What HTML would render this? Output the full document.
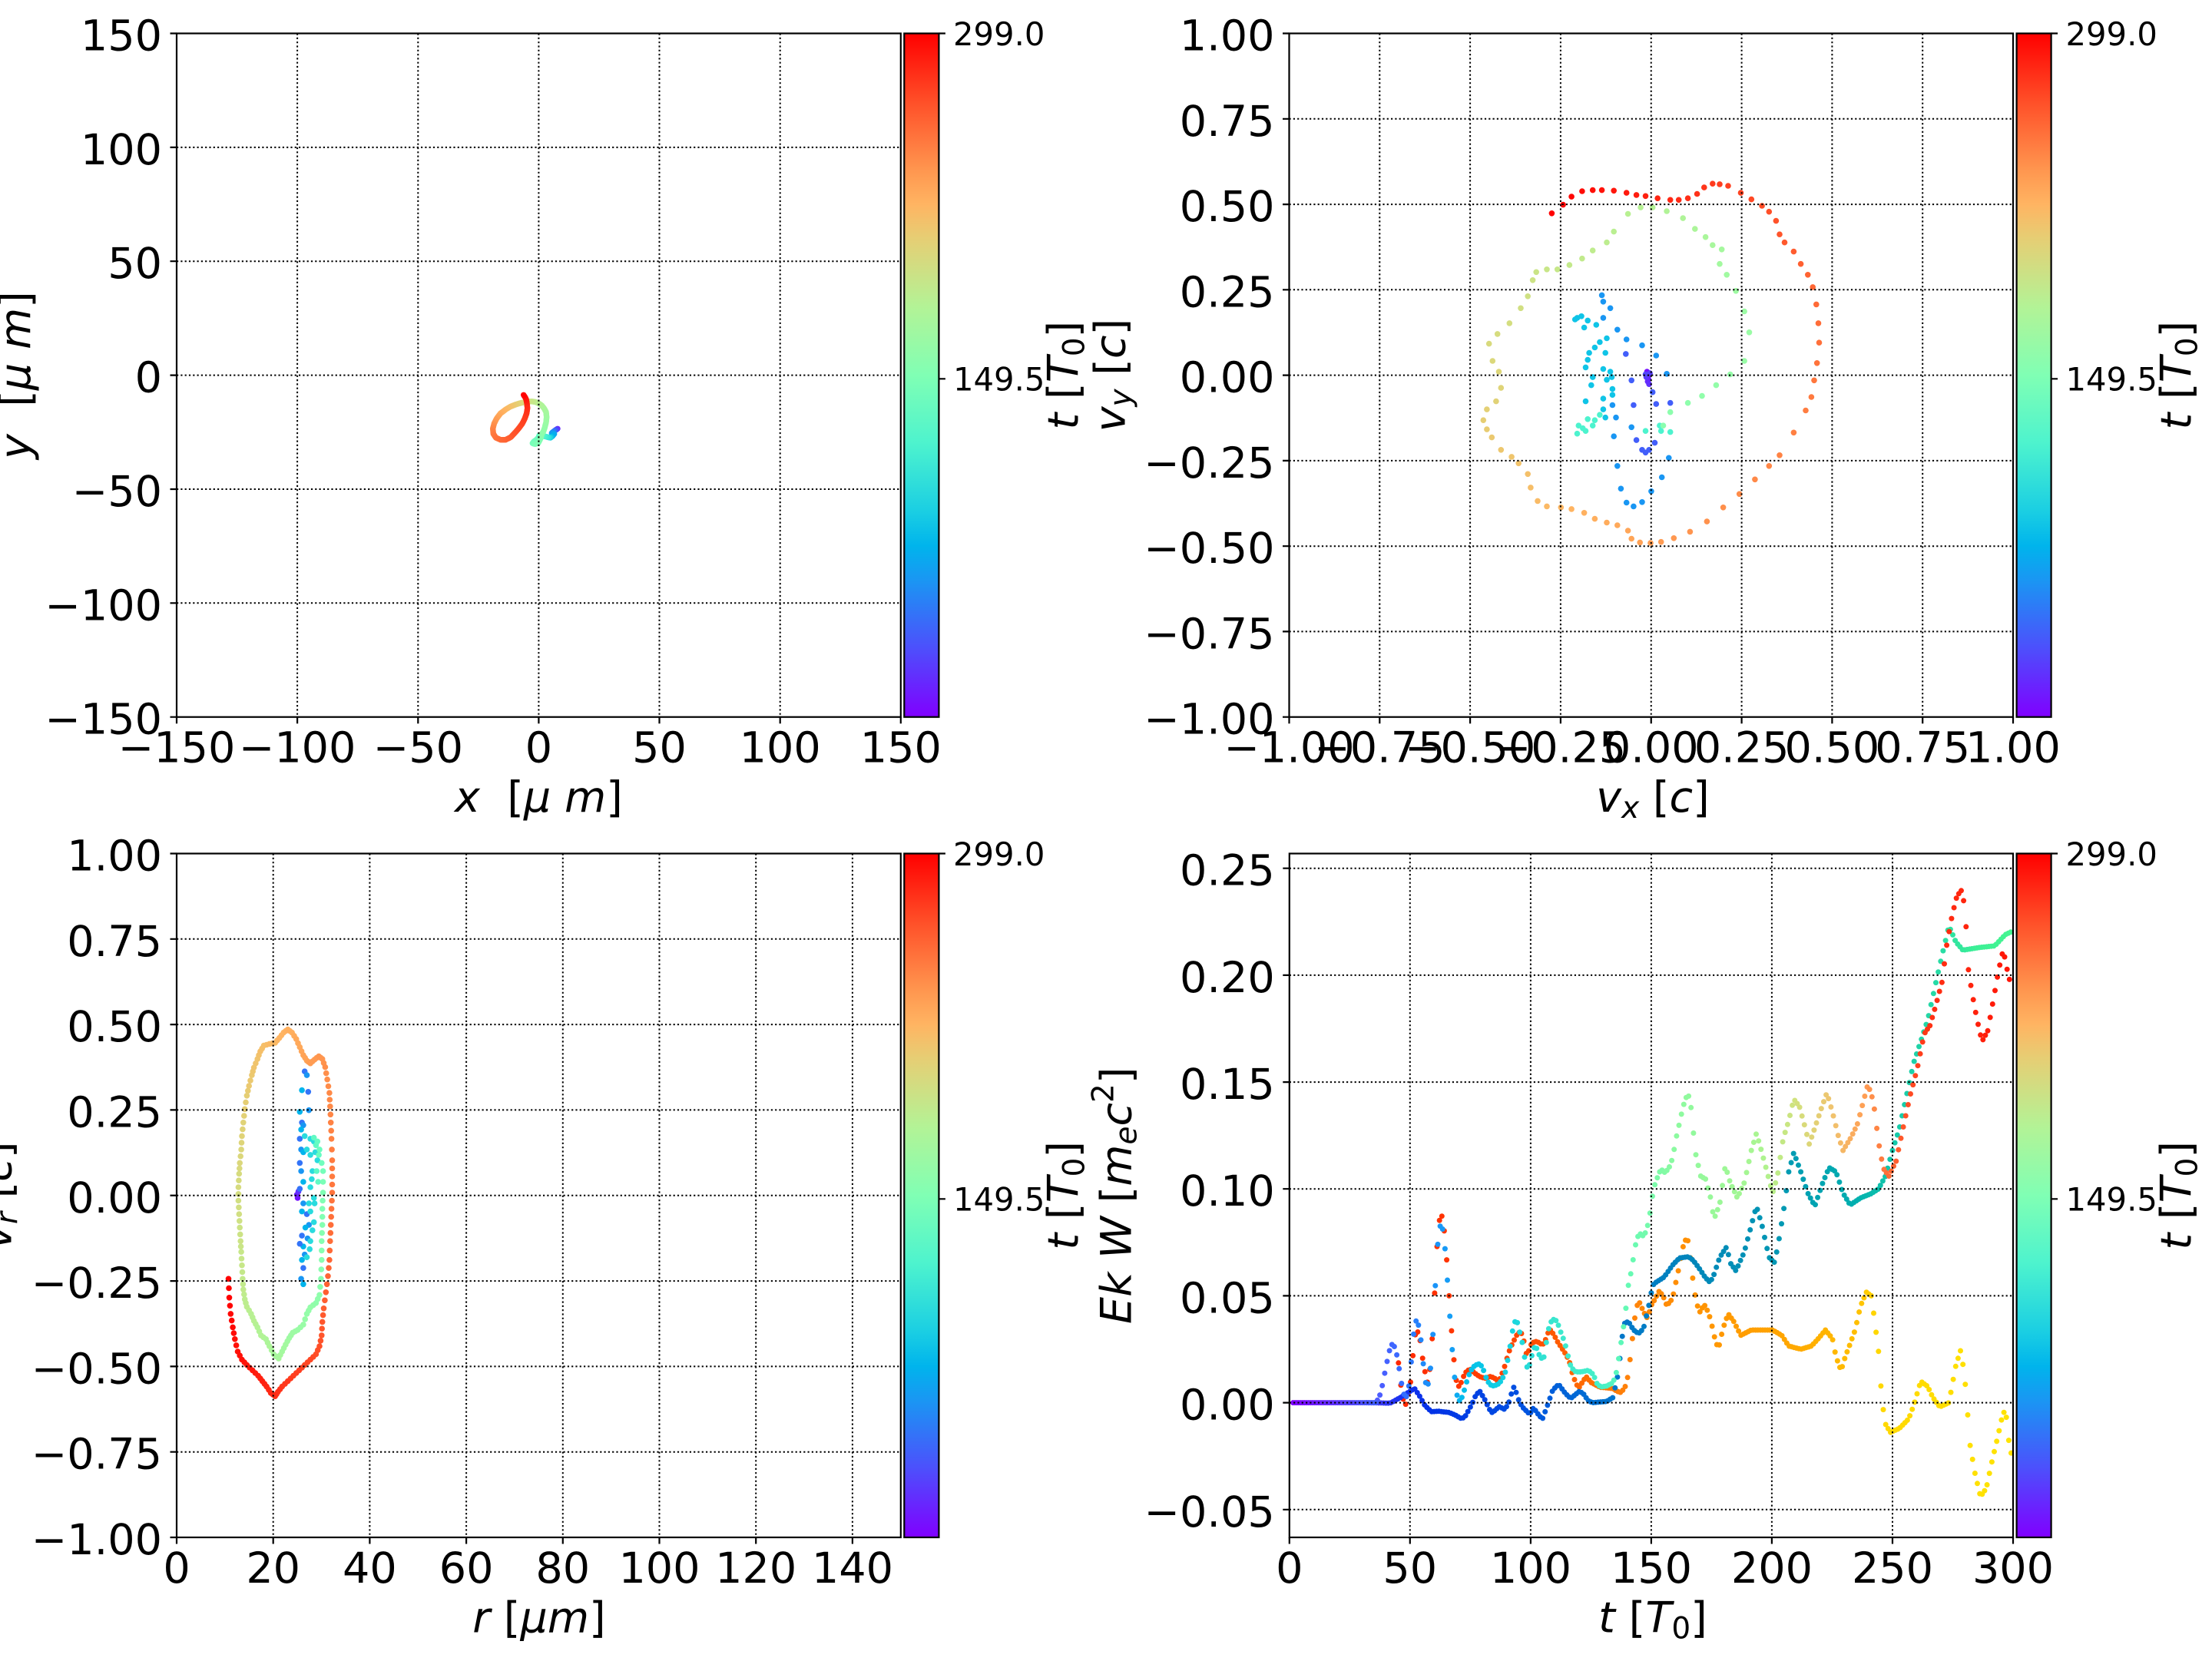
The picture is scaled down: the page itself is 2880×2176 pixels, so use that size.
<!DOCTYPE html>
<html><head><meta charset="utf-8">
<style>
html,body{margin:0;padding:0;background:#fff;overflow:hidden;}
svg{display:block;}
text{font-family:"DejaVu Sans","Liberation Sans",sans-serif;fill:#000;}
.tk{font-size:55.6px;}
.cb{font-size:41.7px;}
.lb{font-size:55.6px;}
</style></head>
<body>
<svg xmlns="http://www.w3.org/2000/svg" width="2880" height="2176" viewBox="0 0 2880 2176">
<defs>
<linearGradient id="rb" x1="0" y1="1" x2="0" y2="0">
<stop offset="0" stop-color="rgb(128,0,255)"/>
<stop offset="0.1" stop-color="rgb(77,79,252)"/>
<stop offset="0.2" stop-color="rgb(26,150,243)"/>
<stop offset="0.25" stop-color="rgb(0,180,236)"/>
<stop offset="0.3" stop-color="rgb(26,206,227)"/>
<stop offset="0.4" stop-color="rgb(77,243,206)"/>
<stop offset="0.5" stop-color="rgb(128,255,180)"/>
<stop offset="0.6" stop-color="rgb(179,243,150)"/>
<stop offset="0.7" stop-color="rgb(230,206,116)"/>
<stop offset="0.75" stop-color="rgb(255,180,98)"/>
<stop offset="0.8" stop-color="rgb(255,150,79)"/>
<stop offset="0.9" stop-color="rgb(255,79,40)"/>
<stop offset="1" stop-color="rgb(255,0,0)"/>
</linearGradient>
<clipPath id="c1"><rect x="230" y="43.5" width="942.8" height="890.2"/></clipPath>
<clipPath id="c2"><rect x="1678.5" y="43.5" width="942.5" height="890.2"/></clipPath>
<clipPath id="c3"><rect x="230" y="1111.5" width="942.8" height="890.5"/></clipPath>
<clipPath id="c4"><rect x="1678.8" y="1111.5" width="942.2" height="890.5"/></clipPath>
</defs>
<rect x="0" y="0" width="2880" height="2176" fill="#fff"/>

<g id="d1" clip-path="url(#c1)"></g>
<g id="d2" clip-path="url(#c2)"></g>
<g id="d3" clip-path="url(#c3)"></g>
<g id="d4" clip-path="url(#c4)"></g>

<g stroke="#000" stroke-width="2" stroke-dasharray="2.2 3.1" fill="none">
<path d="M387.1 43.5V933.7M544.3 43.5V933.7M701.4 43.5V933.7M858.5 43.5V933.7M1015.7 43.5V933.7"/>
<path d="M230 191.9H1172.8M230 340.2H1172.8M230 488.6H1172.8M230 637H1172.8M230 785.3H1172.8"/>
<path d="M1796.3 43.5V933.7M1914.1 43.5V933.7M2031.9 43.5V933.7M2149.75 43.5V933.7M2267.6 43.5V933.7M2385.4 43.5V933.7M2503.2 43.5V933.7"/>
<path d="M1678.5 154.8H2621M1678.5 266.1H2621M1678.5 377.3H2621M1678.5 488.6H2621M1678.5 599.9H2621M1678.5 711.2H2621M1678.5 822.4H2621"/>
<path d="M355.7 1111.5V2002M481.4 1111.5V2002M607.1 1111.5V2002M732.8 1111.5V2002M858.5 1111.5V2002M984.2 1111.5V2002M1109.9 1111.5V2002"/>
<path d="M230 1222.8H1172.8M230 1334.1H1172.8M230 1445.4H1172.8M230 1556.75H1172.8M230 1668.1H1172.8M230 1779.4H1172.8M230 1890.7H1172.8"/>
<path d="M1835.8 1111.5V2002M1992.9 1111.5V2002M2149.9 1111.5V2002M2306.9 1111.5V2002M2464 1111.5V2002"/>
<path d="M1678.8 1130.7H2621M1678.8 1269.9H2621M1678.8 1409.1H2621M1678.8 1548.2H2621M1678.8 1687.4H2621M1678.8 1826.6H2621M1678.8 1965.8H2621"/>
</g>

<g stroke="#000" stroke-width="2.2" fill="none">
<rect x="230" y="43.5" width="942.8" height="890.2"/>
<rect x="1678.5" y="43.5" width="942.5" height="890.2"/>
<rect x="230" y="1111.5" width="942.8" height="890.5"/>
<rect x="1678.8" y="1111.5" width="942.2" height="890.5"/>
</g>

<g stroke="#000" stroke-width="2.2">
<rect x="1177.3" y="43.5" width="45.1" height="890.2" fill="url(#rb)"/>
<rect x="2625.6" y="43.5" width="45" height="890.2" fill="url(#rb)"/>
<rect x="1177.3" y="1111.5" width="45.1" height="890.5" fill="url(#rb)"/>
<rect x="2625.6" y="1111.5" width="45" height="890.5" fill="url(#rb)"/>
</g>

<g stroke="#000" stroke-width="2.2" fill="none">
<path d="M230 933.7v8.5M387.1 933.7v8.5M544.3 933.7v8.5M701.4 933.7v8.5M858.5 933.7v8.5M1015.7 933.7v8.5M1172.8 933.7v8.5"/>
<path d="M230 43.5h-8.5M230 191.9h-8.5M230 340.2h-8.5M230 488.6h-8.5M230 637h-8.5M230 785.3h-8.5M230 933.7h-8.5"/>
<path d="M1678.5 933.7v8.5M1796.3 933.7v8.5M1914.1 933.7v8.5M2031.9 933.7v8.5M2149.75 933.7v8.5M2267.6 933.7v8.5M2385.4 933.7v8.5M2503.2 933.7v8.5M2621 933.7v8.5"/>
<path d="M1678.5 43.5h-8.5M1678.5 154.8h-8.5M1678.5 266.1h-8.5M1678.5 377.3h-8.5M1678.5 488.6h-8.5M1678.5 599.9h-8.5M1678.5 711.2h-8.5M1678.5 822.4h-8.5M1678.5 933.7h-8.5"/>
<path d="M230 2002v8.5M355.7 2002v8.5M481.4 2002v8.5M607.1 2002v8.5M732.8 2002v8.5M858.5 2002v8.5M984.2 2002v8.5M1109.9 2002v8.5"/>
<path d="M230 1111.5h-8.5M230 1222.8h-8.5M230 1334.1h-8.5M230 1445.4h-8.5M230 1556.75h-8.5M230 1668.1h-8.5M230 1779.4h-8.5M230 1890.7h-8.5M230 2002h-8.5"/>
<path d="M1678.8 2002v8.5M1835.8 2002v8.5M1992.9 2002v8.5M2149.9 2002v8.5M2306.9 2002v8.5M2464 2002v8.5M2621 2002v8.5"/>
<path d="M1678.8 1130.7h-8.5M1678.8 1269.9h-8.5M1678.8 1409.1h-8.5M1678.8 1548.2h-8.5M1678.8 1687.4h-8.5M1678.8 1826.6h-8.5M1678.8 1965.8h-8.5"/>
<path d="M1222.4 43.5h8.5M1222.4 493.3h8.5M2670.6 43.5h8.5M2670.6 493.3h8.5M1222.4 1111.5h8.5M1222.4 1561.3h8.5M2670.6 1111.5h8.5M2670.6 1561.3h8.5"/>
</g>

<g class="tk" text-anchor="middle">
<text x="230" y="992.7">−150</text><text x="387.1" y="992.7">−100</text><text x="544.3" y="992.7">−50</text><text x="701.4" y="992.7">0</text><text x="858.5" y="992.7">50</text><text x="1015.7" y="992.7">100</text><text x="1172.8" y="992.7">150</text>
<text x="1678.5" y="992.7">−1.00</text><text x="1796.3" y="992.7">−0.75</text><text x="1914.1" y="992.7">−0.50</text><text x="2031.9" y="992.7">−0.25</text><text x="2149.75" y="992.7">0.00</text><text x="2267.6" y="992.7">0.25</text><text x="2385.4" y="992.7">0.50</text><text x="2503.2" y="992.7">0.75</text><text x="2621" y="992.7">1.00</text>
<text x="230" y="2061">0</text><text x="355.7" y="2061">20</text><text x="481.4" y="2061">40</text><text x="607.1" y="2061">60</text><text x="732.8" y="2061">80</text><text x="858.5" y="2061">100</text><text x="984.2" y="2061">120</text><text x="1109.9" y="2061">140</text>
<text x="1678.8" y="2061">0</text><text x="1835.8" y="2061">50</text><text x="1992.9" y="2061">100</text><text x="2149.9" y="2061">150</text><text x="2306.9" y="2061">200</text><text x="2464" y="2061">250</text><text x="2621" y="2061">300</text>
</g>
<g class="tk" text-anchor="end">
<text x="211" y="65.5">150</text><text x="211" y="213.9">100</text><text x="211" y="362.2">50</text><text x="211" y="510.6">0</text><text x="211" y="659">−50</text><text x="211" y="807.3">−100</text><text x="211" y="955.7">−150</text>
<text x="1659.5" y="65.5">1.00</text><text x="1659.5" y="176.8">0.75</text><text x="1659.5" y="288.1">0.50</text><text x="1659.5" y="399.3">0.25</text><text x="1659.5" y="510.6">0.00</text><text x="1659.5" y="621.9">−0.25</text><text x="1659.5" y="733.2">−0.50</text><text x="1659.5" y="844.4">−0.75</text><text x="1659.5" y="955.7">−1.00</text>
<text x="211" y="1133.5">1.00</text><text x="211" y="1244.8">0.75</text><text x="211" y="1356.1">0.50</text><text x="211" y="1467.4">0.25</text><text x="211" y="1578.75">0.00</text><text x="211" y="1690.1">−0.25</text><text x="211" y="1801.4">−0.50</text><text x="211" y="1912.7">−0.75</text><text x="211" y="2024">−1.00</text>
<text x="1659.8" y="1152.7">0.25</text><text x="1659.8" y="1291.9">0.20</text><text x="1659.8" y="1431.1">0.15</text><text x="1659.8" y="1570.2">0.10</text><text x="1659.8" y="1709.4">0.05</text><text x="1659.8" y="1848.6">0.00</text><text x="1659.8" y="1987.8">−0.05</text>
</g>
<g class="cb">
<text x="1241" y="59">299.0</text><text x="1241" y="508.5">149.5</text>
<text x="2689.5" y="59">299.0</text><text x="2689.5" y="508.5">149.5</text>
<text x="1241" y="1127">299.0</text><text x="1241" y="1576.5">149.5</text>
<text x="2689.5" y="1127">299.0</text><text x="2689.5" y="1576.5">149.5</text>
</g>

<g class="lb" text-anchor="middle">
<text x="701.4" y="1057"><tspan font-style="italic">x</tspan>&#160;&#160;[<tspan font-style="italic">μ</tspan>&#160;<tspan font-style="italic">m</tspan>]</text>
<text x="2152" y="1057"><tspan font-style="italic">v</tspan><tspan font-style="italic" font-size="39" dy="8">x</tspan><tspan dy="-8">&#160;[</tspan><tspan font-style="italic">c</tspan>]</text>
<text x="702" y="2125.3"><tspan font-style="italic">r</tspan>&#160;[<tspan font-style="italic">μm</tspan>]</text>
<text x="2152" y="2125.3"><tspan font-style="italic">t</tspan>&#160;[<tspan font-style="italic">T</tspan><tspan font-size="39" dy="8">0</tspan><tspan dy="-8">]</tspan></text>

<text transform="translate(39,488.6) rotate(-90)"><tspan font-style="italic">y</tspan>&#160;&#160;[<tspan font-style="italic">μ</tspan>&#160;<tspan font-style="italic">m</tspan>]</text>
<text transform="translate(1464.4,488.6) rotate(-90)"><tspan font-style="italic">v</tspan><tspan font-style="italic" font-size="39" dy="8">y</tspan><tspan dy="-8">&#160;[</tspan><tspan font-style="italic">c</tspan>]</text>
<text transform="translate(14.5,1556.75) rotate(-90)"><tspan font-style="italic">v</tspan><tspan font-style="italic" font-size="39" dy="8">r</tspan><tspan dy="-8">&#160;[</tspan><tspan font-style="italic">c</tspan>]</text>
<text transform="translate(1472.7,1556.75) rotate(-90)"><tspan font-style="italic">Ek</tspan>&#160;<tspan font-style="italic">W</tspan>&#160;[<tspan font-style="italic">m</tspan><tspan font-style="italic" font-size="39" dy="7">e</tspan><tspan font-style="italic" dy="-7">c</tspan><tspan font-size="39" dy="-23">2</tspan><tspan dy="23">]</tspan></text>

<text transform="translate(1403.4,488.6) rotate(-90)"><tspan font-style="italic">t</tspan>&#160;[<tspan font-style="italic">T</tspan><tspan font-size="39" dy="8">0</tspan><tspan dy="-8">]</tspan></text>
<text transform="translate(2852.5,488.6) rotate(-90)"><tspan font-style="italic">t</tspan>&#160;[<tspan font-style="italic">T</tspan><tspan font-size="39" dy="8">0</tspan><tspan dy="-8">]</tspan></text>
<text transform="translate(1403.4,1556.75) rotate(-90)"><tspan font-style="italic">t</tspan>&#160;[<tspan font-style="italic">T</tspan><tspan font-size="39" dy="8">0</tspan><tspan dy="-8">]</tspan></text>
<text transform="translate(2852.5,1556.75) rotate(-90)"><tspan font-style="italic">t</tspan>&#160;[<tspan font-style="italic">T</tspan><tspan font-size="39" dy="8">0</tspan><tspan dy="-8">]</tspan></text>
</g>
</svg>

<script>
(function(){
var NS="http://www.w3.org/2000/svg";
function rb(c){c=Math.max(0,Math.min(1,c));var r=Math.min(1,Math.abs(2*c-0.5)),g=Math.sin(Math.PI*c),b=Math.cos(Math.PI*c/2);return "rgb("+Math.round(r*255)+","+Math.round(g*255)+","+Math.round(b*255)+")";}
function add(g,x,y,r,f){var e=document.createElementNS(NS,"circle");e.setAttribute("cx",x.toFixed(1));e.setAttribute("cy",y.toFixed(1));e.setAttribute("r",r);e.setAttribute("fill",f);g.appendChild(e);}

var g1=document.getElementById("d1");
var p1=[[333,205,0.05],[325,210,0.1],[318,215,0.15],[310,222,0.2],[320,225,0.22],[312,235,0.25],[305,240,0.3],[295,238,0.35],[285,235,0.38],[270,232,0.42],[262,230,0.44],[258,240,0.45],[250,248,0.46],[240,255,0.47],[235,262,0.48],[245,265,0.49],[258,260,0.5],[268,240,0.51],[270,228,0.52],[278,215,0.53],[283,200,0.54],[288,180,0.55],[290,160,0.56],[288,140,0.57],[280,125,0.58],[270,113,0.59],[258,105,0.6],[245,100,0.62],[230,98,0.64],[210,100,0.66],[190,104,0.68],[170,110,0.7],[150,118,0.72],[130,130,0.74],[110,145,0.76],[95,165,0.78],[85,185,0.8],[80,205,0.82],[82,225,0.84],[92,240,0.85],[110,248,0.86],[130,248,0.87],[150,238,0.88],[165,222,0.89],[180,205,0.9],[195,185,0.91],[205,165,0.92],[212,145,0.93],[215,125,0.94],[213,105,0.95],[210,90,0.97],[205,80,0.98],[200,73,1.0]];
for(var i=0;i<p1.length-1;i++){var a=p1[i],b=p1[i+1];var ax=615+a[0]/3,ay=490+a[1]/3,bx=615+b[0]/3,by=490+b[1]/3;var d=Math.hypot(bx-ax,by-ay);var n=Math.max(1,Math.ceil(d/1.0));for(var k=0;k<n;k++){var f=k/n;add(g1,ax+(bx-ax)*f,ay+(by-ay)*f,3.7,rb(a[2]+(b[2]-a[2])*f));}}
add(g1,615+200/3,490+73/3,3.7,rb(1));

var g2=document.getElementById("d2");
function P2(px,py,c){add(g2,1440+px/1.0889,py/1.4255,3.8,rb(c));}
var purp=[[767,690],[768,697],[769,703],[768,708],[770,713],[766,700],[771,693],[765,695]];
purp.forEach(function(p,i){P2(p[0],p[1],0.02+0.01*i);});
var bd=[[775,728],[780,750],[760,835],[752,817],[770,835],[778,822],[745,706],[748,752],[800,748],[737,657],[765,840]];
bd.forEach(function(p){P2(p[0],p[1],0.12);});
var bl=[[703,548],[705,560],[715,572],[705,590],[725,612],[738,630],[760,641],[780,660],[795,694],[718,752],[723,775],[725,865],[730,907],[738,933],[748,940],[760,932],[773,912],[788,886],[798,850],[720,810],[745,793]];
bl.forEach(function(p){P2(p[0],p[1],0.2);});
var cy=[[668,590],[674,587],[683,595],[665,593],[678,608],[695,603],[710,628],[700,635],[693,645],[685,655],[708,655],[683,668],[680,682],[705,685],[715,690],[690,700],[710,705],[718,733],[705,740],[680,745],[708,775],[688,715],[705,760],[717,700],[718,722]];
cy.forEach(function(p){P2(p[0],p[1],0.28);});
var aq=[[693,780],[683,778],[670,790],[680,800],[668,805],[676,795],[700,770],[765,800],[785,790],[787,800],[800,802],[690,790]];
aq.forEach(function(p){P2(p[0],p[1],0.4);});
var ring=[[790,790],[800,765],[825,748],[845,735],[865,715],[885,695],[905,670],[912,617],[905,578],[893,540],[880,510],[870,490],[873,463],[860,455],[850,440],[835,425],[818,405],[795,392],[775,385],[758,385],[740,397],[720,430],[710,450],[690,465],[675,480],[657,492],[640,500],[625,500],[610,505],[605,520],[598,550],[588,572],[572,600],[555,620],[543,638],[548,670],[557,690],[560,720],[553,745],[540,760],[535,780],[540,797],[547,812],[560,835],[575,848],[585,860],[598,880],[602,905],[612,930],[625,940],[645,942],[660,945],[678,952],[693,963],[710,970],[725,975],[740,985],[745,1000],[757,1007],[772,1008],[787,1006],[805,999],[828,987],[852,968],[875,942],[898,917],[920,890],[940,865],[955,845],[975,803],[992,762],[1000,737],[1004,706],[1008,674],[1011,636],[1010,600],[1007,565],[1002,533],[995,510],[985,490],[975,467],[962,450],[955,435],[950,410],[940,393],[930,382],[915,370],[900,358],[882,345],[870,342],[860,341],[848,348],[838,360],[825,368],[812,371],[800,371],[782,368],[765,364],[752,362],[738,358],[720,354],[703,353],[690,353],[675,355],[660,365],[648,380],[632,396]];
var N=ring.length;
ring.forEach(function(p,i){P2(p[0],p[1],0.52+0.48*i/(N-1));});

var g3=document.getElementById("d3");
function P3(px,py,c){add(g3,px/1.0889,1076+py/1.4255,3.8,rb(c));}
var in3b=[[432,455],[435,462],[428,490],[437,493],[438,527],[425,530],[428,550],[430,555],[427,563],[425,580],[427,600],[430,605],[425,625],[427,640],[430,660],[425,673],[430,700],[428,715],[435,720],[438,740],[433,745],[428,760],[436,765],[430,780],[425,775],[432,795],[428,805],[430,820],[427,840],[430,850]];
P3(422,690,0.02);P3(421,684,0.04);P3(423,678,0.06);
in3b.forEach(function(p,i){P3(p[0],p[1],0.15+0.1*(i%3)/2);});
var in3c=[[432,575],[440,580],[445,585],[435,600],[440,610],[447,605],[450,620],[443,640],[440,670],[445,690],[438,700],[440,715],[445,735],[440,770],[435,800],[442,655],[446,700],[443,750],[439,785]];
in3c.forEach(function(p){P3(p[0],p[1],0.33);});
var in3g=[[445,578,0.44],[448,592,0.44],[450,585,0.45],[453,600,0.46],[456,625,0.47],[452,610,0.45],[449,640,0.43],[451,660,0.44]];
in3g.forEach(function(p){P3(p[0],p[1],p[2]);});
var r3=[[458,640,.48],[458,680,.5],[457,710,.5],[457,740,.51],[456,770,.51],[456,805,.52],[455,840,.52],[453,870,.53],[448,885,.53],[440,893,.54],[435,905,.54],[430,925,.55],[422,935,.55],[415,940,.56],[410,950,.56],[405,962,.57],[400,975,.57],[395,988,.58],[388,980,.58],[382,965,.59],[377,952,.59],[370,945,.6],[365,930,.6],[360,918,.61],[356,905,.61],[350,892,.62],[347,878,.62],[345,860,.63],[344,840,.63],[343,815,.64],[342,790,.64],[341,770,.65],[340,745,.65],[339,720,.66],[338,695,.66],[338,670,.67],[339,645,.67],[340,625,.68],[342,600,.68],[343,575,.69],[345,550,.69],[347,525,.7],[350,500,.7],[353,482,.71],[357,462,.71],[360,448,.72],[365,432,.72],[369,418,.73],[374,407,.73],[382,404,.74],[390,402,.74],[396,393,.75],[402,383,.75],[408,377,.76],[414,383,.76],[420,395,.77],[425,410,.77],[430,425,.78],[435,435,.78],[440,440,.79],[446,433,.79],[452,427,.8],[457,432,.8],[461,447,.81],[464,470,.81],[467,495,.82],[468,520,.82],[469,550,.83],[470,580,.83],[471,620,.84],[471,650,.84],[471,680,.85],[470,710,.85],[469,740,.86],[468,770,.86],[467,805,.87],[465,835,.87],[462,865,.88],[459,895,.88],[457,920,.89],[456,945,.89],[453,965,.9],[448,980,.9],[440,990,.91],[432,1000,.91],[424,1010,.92],[416,1020,.92],[408,1030,.93],[400,1040,.93],[394,1050,.94],[390,1058,.94],[384,1052,.95],[378,1040,.95],[372,1030,.96],[366,1020,.96],[358,1010,.97],[350,1000,.97],[343,990,.98],[337,975,.98],[333,952,.98],[330,930,.99],[327,905,.99],[325,875,1],[324,840,1]];
for(var j=0;j<r3.length;j++){var A=r3[j];P3(A[0],A[1],A[2]);if(j<r3.length-1){var B=r3[j+1];P3((A[0]+B[0])/2,(A[1]+B[1])/2,(A[2]+B[2])/2);}}

var g4=document.getElementById("d4");
function X4(t){return 1678.8+t*3.1407;}
function Y4(E){return 1826.6-E*2783.6;}
function interp(keys,t){if(t<=keys[0][0])return keys[0][1];for(var i=0;i<keys.length-1;i++){if(t<=keys[i+1][0]){var a=keys[i],b=keys[i+1];var f=(t-a[0])/(b[0]-a[0]);return a[1]+(b[1]-a[1])*f;}}return keys[keys.length-1][1];}
function icol(cols,t){if(t<=cols[0][0])return cols[0][1];for(var i=0;i<cols.length-1;i++){if(t<=cols[i+1][0]){var a=cols[i],b=cols[i+1];var f=(t-a[0])/(b[0]-a[0]);return [a[1][0]+(b[1][0]-a[1][0])*f,a[1][1]+(b[1][1]-a[1][1])*f,a[1][2]+(b[1][2]-a[1][2])*f];}}return cols[cols.length-1][1];}
function series(keys,cols,r,dt){var t0=keys[0][0],t1=keys[keys.length-1][0];for(var t=t0;t<=t1+1e-6;t+=dt){var c=icol(cols,t);add(g4,X4(t),Y4(interp(keys,t)),r,"rgb("+Math.round(c[0])+","+Math.round(c[1])+","+Math.round(c[2])+")");}}

var RY=[[45.2,0.0186],[46,0.0098],[46.9,0.0026],[48.1,-0.0012],[50.1,0.0084],[51.1,0.0207],[51.9,0.0309],[52.9,0.0339],[54,0.0309],[54.8,0.0234],[56.1,0.015],[57.2,0.0096],[58,0.013],[59,0.0258],[60,0.0464],[60.9,0.0683],[61.9,0.0841],[63,0.0885],[64.1,0.0817],[65.1,0.0685],[66,0.0534],[67,0.0364],[68.1,0.0211],[69.1,0.0108],[70.1,0.0075],[71.3,0.0096],[72.3,0.0126],[73.6,0.015],[75.2,0.0156],[76.8,0.0138],[78.9,0.0122],[81,0.0114],[83.2,0.0122],[84.8,0.0117],[86.4,0.0102],[87.4,0.0114],[89,0.0162],[90.1,0.0204],[91.1,0.024],[92.2,0.027],[93.2,0.0293],[94.8,0.0329],[96.4,0.0323],[97.2,0.0288],[97.8,0.0228],[98.9,0.0234],[100.1,0.027],[101.7,0.0288],[103.3,0.0282],[104.9,0.027],[106,0.0288],[107,0.0323],[108.1,0.0341],[109.7,0.0317],[111,0.0288],[112.4,0.0264],[113.7,0.0242],[114.8,0.0222],[116.1,0.0192],[117.1,0.0144],[118,0.0114],[119,0.0084],[120.3,0.0072],[121.4,0.0096],[123,0.0122],[125,0.0095],[128.8,0.0072],[132,0.0069],[134.1,0.0066],[135.7,0.0054],[137.3,0.0048],[138.9,0.0066],[140,0.0102],[141,0.0182],[142.1,0.029],[143.1,0.039],[144.2,0.0455],[145.2,0.0467],[146.8,0.0425],[148.4,0.0395],[150,0.0455],[151.6,0.0485],[153.2,0.052],[154.8,0.0503],[156.4,0.0455],[158,0.0473],[159.1,0.0503],[160.1,0.0557],[161.2,0.0617],[162.8,0.0709],[163.8,0.0761],[165.4,0.0757],[167,0.0599],[168.1,0.0509],[169.1,0.0455],[170.2,0.0425],[171.8,0.0455],[172.5,0.0454],[174.6,0.039],[176,0.0315],[177.8,0.025],[179.8,0.035],[181.9,0.0416],[184.2,0.038],[187.1,0.0315],[191.5,0.034],[195.9,0.034],[200.3,0.034],[204.1,0.0315],[207,0.0265],[212,0.025],[216.4,0.0265],[219.3,0.03],[222.2,0.034],[225.1,0.03],[226.6,0.0214],[228.7,0.015],[230.4,0.0214],[232.5,0.0277],[234.5,0.034],[236.8,0.0454],[239.2,0.0517],[241.2,0.05],[242.1,0.0428],[244.2,0.024],[245.6,0.0013],[247.1,-0.01],[249.1,-0.0139],[252.9,-0.012],[256.7,-0.0076],[258.8,-0.0013],[261.7,0.01],[264.6,0.0076],[266.7,0.0025],[269.6,-0.002],[273.4,0],[276.3,0.0176],[278.4,0.025],[280.1,0.01],[282.2,-0.02],[284.2,-0.033],[286.5,-0.044],[288.9,-0.04],[291.2,-0.0277],[293.3,-0.0176],[295.3,-0.0076],[296.8,-0.0025],[298.2,-0.0176],[299.7,-0.0265]];
var RYc=[[45,[255,40,0]],[70,[255,55,0]],[100,[255,75,0]],[125,[255,110,0]],[140,[255,130,10]],[175,[255,150,0]],[205,[255,165,0]],[235,[255,190,0]],[243,[255,215,0]],[300,[255,228,0]]];

var BL=[[32,0],[41.8,-0.0002],[46,0.0024],[49.2,0.0048],[51.9,0.0066],[54,0.003],[56.1,-0.0012],[58.8,-0.0042],[61.9,-0.004],[66.2,-0.0046],[68.8,-0.0058],[71.5,-0.0076],[73.1,-0.006],[75.7,-0.0006],[77.3,0.0036],[78.9,0.0054],[81,0.0014],[83.7,-0.0048],[85.3,-0.0036],[86.9,-0.0018],[89,-0.003],[90.6,-0.0012],[92.2,0.0048],[93.2,0.0078],[94.8,0.0018],[96.4,-0.0018],[98,-0.0036],[99.6,-0.0054],[101.2,-0.0024],[103.5,-0.006],[104.9,-0.0076],[107,-0.0012],[109.2,0.006],[111.6,0.0086],[114.5,0.0042],[116.6,0.002],[120.3,0.0054],[122.4,0.0036],[123.5,0.0012],[125.6,0],[131.5,0.0006],[134.1,0.0024],[136,0.012],[137,0.0207],[137.8,0.0297],[138.9,0.0371],[140.5,0.038],[142.6,0.0341],[144.7,0.0323],[146.8,0.0347],[149,0.0455],[149.8,0.0506],[151.1,0.0557],[155.3,0.0587],[159.1,0.0647],[161.7,0.0677],[165.4,0.0683],[167.5,0.0665],[170.2,0.0623],[172.3,0.0587],[174,0.0567],[175.4,0.058],[178.4,0.068],[181.3,0.073],[182.7,0.0655],[185.1,0.0617],[188.6,0.0706],[191.5,0.083],[193.6,0.092],[195.9,0.083],[198.8,0.068],[201.2,0.0655],[203.2,0.078],[205.3,0.093],[207,0.108],[209.1,0.117],[212,0.108],[214.9,0.098],[217.8,0.092],[220.8,0.102],[223.7,0.11],[226.6,0.108],[229.5,0.098],[232.5,0.0925],[236.8,0.0958],[241.2,0.0978],[244.2,0.1],[247.1,0.106],[250,0.118],[252.9,0.1285],[255.8,0.1436],[258.8,0.159],[261.7,0.169],[264.6,0.179],[267.5,0.194],[270.5,0.209],[273.4,0.223],[276.3,0.2155],[279.2,0.2117],[286.5,0.213],[292.4,0.2137],[296.8,0.219],[299.7,0.2205]];
var BLc=[[32,[90,70,250]],[45,[30,50,240]],[60,[0,50,230]],[95,[0,80,225]],[125,[0,110,210]],[140,[0,120,200]],[170,[0,135,185]],[200,[0,150,180]],[235,[0,175,175]],[250,[20,200,170]],[270,[40,220,165]],[285,[60,240,150]],[300,[70,245,145]]];

var LG=[[36.5,0.0012],[37.5,0.0036],[38.6,0.0084],[39.6,0.0144],[40.7,0.0204],[41.8,0.0258],[42.8,0.0278],[43.9,0.0254],[45,0.0198],[46,0.012],[47.1,0.0054],[48.1,0.0018],[49.2,0.0048],[50.1,0.0138],[51.1,0.027],[51.9,0.0371],[52.9,0.0389],[54,0.0341],[55,0.0246],[55.8,0.0144],[56.8,0.0072],[57.9,0.0096],[59,0.0216],[60,0.0423],[60.9,0.0647],[61.9,0.0803],[63,0.0845],[64.1,0.0773],[65.1,0.0641],[66,0.0489],[67,0.032],[68.1,0.0162],[69.1,0.0054],[70.1,0.0006],[71.3,0.0018],[72.9,0.0072],[73.9,0.0114],[75,0.0146],[76.3,0.0168],[77.9,0.018],[78.9,0.0182],[80.2,0.0162],[81,0.0132],[82.1,0.0102],[83.2,0.0084],[84.8,0.0078],[86.4,0.0086],[87.4,0.0096],[88.3,0.0114],[89.3,0.0132],[90.1,0.0174],[91.1,0.0234],[92.2,0.0317],[93.2,0.0377],[94.3,0.0383],[95,0.0353],[95.9,0.0311],[97,0.0258],[97.8,0.0186],[98.9,0.0156],[100.1,0.0198],[101.2,0.0258],[102.5,0.0254],[103.3,0.0228],[104.4,0.021],[105.2,0.0198],[106,0.024],[107,0.0323],[108.1,0.0374],[109.5,0.0389],[110.8,0.0383],[111.8,0.0353],[112.9,0.0317],[114,0.0288],[114.8,0.0252],[115.5,0.0218],[116.1,0.0186],[117.1,0.0162],[118.7,0.0144],[120.8,0.0144],[123.5,0.015],[125.1,0.0144],[126.7,0.0114],[127.7,0.0084],[129.3,0.0074],[131.5,0.0078],[133.6,0.009],[135,0.0114],[136,0.0168],[137.1,0.0252],[138.4,0.0347],[139.4,0.0431],[140.5,0.0549],[142.1,0.0635],[143.1,0.0719],[144.2,0.0773],[145.3,0.0791],[146.8,0.0779],[147.9,0.0803],[149,0.0851],[150,0.0923],[150.9,0.1],[152.2,0.1042],[153.2,0.1076],[154.3,0.109],[155.5,0.1078],[156.9,0.109],[158,0.1114],[159.1,0.1156],[160.1,0.1228],[161.2,0.1282],[163.2,0.1386],[165.2,0.145],[166.7,0.137],[168.1,0.118],[170.5,0.106],[172.5,0.1046],[174.6,0.0958],[176,0.0857],[178.4,0.093],[180.7,0.111],[182.7,0.103],[185.7,0.0958],[188.6,0.103],[191.5,0.118],[193.6,0.126],[195.9,0.117],[198,0.108],[200.3,0.098],[202.3,0.106],[204.7,0.1235],[207,0.132],[209.1,0.142],[211.4,0.1386],[213.5,0.13],[215.5,0.121],[217.8,0.1285],[220.8,0.1386],[222.8,0.145],[225.1,0.136],[227.5,0.125],[229.5,0.118],[232.5,0.1235],[235.4,0.13],[237.4,0.1386],[239.8,0.149],[242.1,0.141],[244.2,0.122],[246.2,0.1096],[248.5,0.106],[251.5,0.113],[254.4,0.1285],[257.3,0.1436],[260.2,0.156],[263.2,0.1726],[265.5,0.1764],[267.5,0.184],[270.5,0.1966],[272.5,0.214],[274.3,0.2255],[276.3,0.2356],[278.4,0.24],[280.1,0.232],[281.3,0.204],[283,0.1915],[285.1,0.179],[287.1,0.169],[289.5,0.174],[291.5,0.1865],[293.9,0.2016],[295.9,0.212],[297.7,0.2016],[299.4,0.194]];
var LGc=[[36,[80,90,255]],[48,[50,110,255]],[56,[30,140,250]],[68,[20,160,245]],[72,[0,190,235]],[90,[20,210,225]],[100,[40,220,215]],[112,[60,232,205]],[130,[70,240,200]],[140,[100,250,180]],[160,[140,250,160]],[195,[170,245,145]],[210,[210,225,125]],[225,[240,195,110]],[238,[255,160,85]],[250,[255,100,50]],[265,[255,50,20]],[300,[255,20,5]]];

series(RY,RYc,3.5,1);
series(BL,BLc,3.5,1);
series(LG,LGc,3.5,1);
for(var t=1.5;t<=36;t+=0.8){var c=(t-1.5)/34.5*0.12;add(g4,X4(t),Y4(0),3.5,rb(c));}
})();
</script>
</body></html>
